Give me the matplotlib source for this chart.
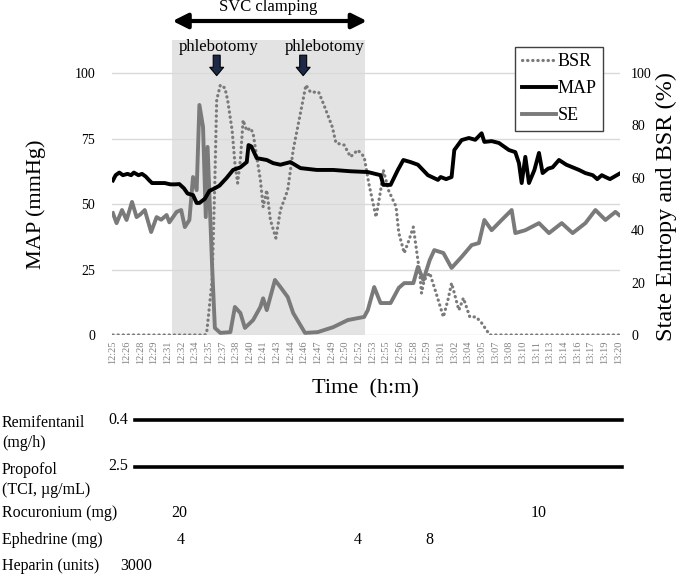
import matplotlib
matplotlib.use("Agg")
import matplotlib.pyplot as plt
import matplotlib.transforms as mtransforms
from matplotlib.lines import Line2D

plt.rcParams["font.family"] = ["Liberation Serif", "DejaVu Serif"]

# ── Data (time in minutes after 12:25) ────────────────────────────────────────
map_t = [0.0, 0.3, 0.7, 1.1, 1.6, 2.0, 2.3, 2.8, 3.2, 3.6, 4.0, 4.3, 5.0, 5.7, 6.3, 6.8,
         7.3, 7.8, 8.2, 8.8, 9.2, 9.5, 10.1, 10.6, 11.2, 11.7, 12.5, 13.2, 14.0, 14.7,
         14.9, 15.2, 15.8, 16.9, 17.6, 18.4, 19.5, 20.6, 22.4, 24.2, 26.1, 28.0, 29.4,
         29.7, 30.5, 31.3, 31.9, 32.7, 33.5, 34.6, 35.7, 36.0, 36.6, 37.2, 37.5, 38.3,
         39.1, 39.8, 40.5, 40.8, 41.6, 42.4, 43.5, 44.2, 44.6, 44.9, 45.3, 45.7, 46.3,
         46.8, 47.2, 47.8, 48.3, 49.0, 49.8, 50.5, 51.2, 51.9, 52.7, 53.2, 53.7, 54.1,
         54.6, 55.1, 55.6]
map_v = [59.0, 61.0, 62.0, 61.0, 61.5, 61.0, 62.0, 61.0, 61.5, 60.5, 59.0, 58.0, 58.0,
         58.0, 57.5, 57.5, 57.6, 56.0, 54.0, 53.4, 50.4, 50.4, 52.0, 55.0, 56.0, 57.0,
         60.0, 63.0, 64.0, 66.0, 72.5, 72.0, 67.5, 66.8, 65.6, 65.0, 66.0, 63.7, 63.0,
         63.0, 62.5, 62.2, 61.0, 57.3, 57.3, 63.0, 66.8, 66.0, 65.0, 61.0, 59.2, 60.3,
         59.5, 60.3, 70.6, 74.4, 75.2, 74.5, 77.0, 73.7, 74.0, 73.3, 70.6, 69.8, 65.6,
         58.0, 68.0, 58.0, 63.0, 69.5, 61.8, 63.5, 64.0, 66.8, 65.0, 64.0, 63.0, 61.8,
         61.0, 59.5, 61.0, 60.3, 59.5, 60.5, 61.5]

se_t = [0.0, 0.4, 1.0, 1.5, 2.1, 2.6, 3.0, 3.5, 4.2, 4.8, 5.3, 5.9, 6.2, 7.0, 7.5, 7.9,
        8.4, 8.8, 9.2, 9.5, 9.9, 10.2, 10.4, 10.9, 11.2, 11.8, 12.9, 13.4, 14.0, 14.5,
        15.4, 16.2, 16.5, 16.9, 17.8, 18.4, 19.2, 19.8, 21.1, 22.5, 24.2, 25.8, 27.6,
        28.0, 28.7, 29.4, 30.5, 31.4, 32.0, 33.0, 33.5, 34.1, 34.8, 35.3, 36.3, 37.2,
        38.3, 39.4, 40.2, 40.8, 41.6, 42.7, 43.8, 44.2, 45.3, 46.8, 47.9, 49.3, 50.5,
        51.9, 53.0, 54.1, 55.2, 55.6]
se_v = [46.5, 42.7, 47.7, 43.9, 50.8, 45.0, 46.0, 47.7, 39.3, 45.0, 44.0, 45.8, 43.0,
        47.0, 47.7, 41.2, 43.9, 60.3, 55.3, 87.8, 79.4, 45.0, 71.8, 26.0, 2.7, 0.8, 1.1,
        10.7, 8.4, 2.7, 5.7, 10.7, 14.0, 9.5, 21.0, 18.3, 14.5, 8.4, 0.8, 1.1, 3.0, 5.7,
        6.9, 9.5, 18.3, 12.2, 12.2, 18.0, 19.8, 19.8, 26.0, 21.0, 28.6, 32.4, 31.3, 25.6,
        29.8, 34.3, 35.1, 43.9, 40.0, 43.9, 47.7, 38.9, 40.0, 42.7, 38.9, 42.7, 38.9,
        42.7, 47.7, 43.9, 47.0, 45.8]

bsr_t = [0.0, 10.1, 10.3, 10.9, 11.2, 11.4, 11.8, 12.3, 12.6, 13.1, 13.4, 13.7, 14.0,
         14.3, 14.7, 15.1, 15.4, 15.8, 16.2, 16.5, 16.9, 17.3, 17.9, 18.4, 19.2, 19.8,
         20.6, 21.2, 21.7, 22.6, 23.1, 24.1, 24.5, 25.4, 26.1, 26.9, 27.6, 28.1, 28.9,
         29.4, 29.7, 30.3, 31.1, 31.4, 32.0, 32.5, 33.0, 33.3, 33.7, 33.9, 34.2, 34.8,
         35.5, 36.3, 36.8, 37.2, 37.5, 38.0, 38.5, 39.2, 39.9, 40.5, 41.4, 55.6]
bsr_v = [0.0, 0.0, 0.8, 21.0, 59.0, 89.7, 95.4, 94.3, 89.7, 78.0, 65.6, 58.0, 66.8, 82.0,
         78.0, 79.0, 77.0, 68.0, 59.2, 48.9, 55.3, 43.9, 37.0, 47.7, 55.3, 70.6, 84.7,
         95.4, 92.7, 92.7, 88.5, 79.4, 73.3, 72.5, 68.0, 70.6, 68.0, 58.0, 45.0, 55.0,
         63.0, 55.0, 49.0, 39.0, 31.3, 36.0, 41.2, 33.6, 23.7, 16.0, 21.0, 23.7, 16.0,
         6.9, 13.4, 19.8, 16.0, 9.5, 14.1, 6.9, 6.9, 4.6, 0.0, 0.0]

tick_labels = ["12:25", "12:26", "12:28", "12:29", "12:31", "12:32", "12:34", "12:35",
               "12:37", "12:38", "12:40", "12:41", "12:43", "12:44", "12:46", "12:47",
               "12:49", "12:50", "12:52", "12:53", "12:55", "12:56", "12:58", "12:59",
               "13:01", "13:02", "13:04", "13:05", "13:07", "13:08", "13:10", "13:11",
               "13:13", "13:14", "13:16", "13:17", "13:19", "13:20"]
tick_step = 1.5

clamp_start, clamp_end = 6.45, 27.7
phlebotomy_t = [11.4, 20.9]
phlebotomy_label_t = [11.6, 23.25]

infusions = [("Remifentanil\n(mg/h)", "0.4", 2.4, 55.9),
             ("Propofol\n(TCI, \u00b5g/mL)", "2.5", 2.4, 55.9)]
bolus_rows = ["Rocuronium (mg)", "Ephedrine (mg)", "Heparin (units)"]
bolus_t = [[7.3, 46.8], [7.4, 26.9, 34.8], [2.6]]
bolus_dose = [["20", "10"], ["4", "4", "8"], ["3000"]]

# ── Figure ────────────────────────────────────────────────────────────────────
W, H = 685, 576
fig = plt.figure(figsize=(W / 100, H / 100), dpi=100)
ax = fig.add_axes([112 / W, 1 - 335 / H, 508 / W, 295 / H])
ax2 = ax.twinx()   # right-hand % scale; same 0-100 mapping as MAP

YTOP = 112.6
ax.set_xlim(-0.1, 55.7)
ax.set_ylim(0, YTOP)
ax2.set_ylim(0, YTOP)

ax.axvspan(clamp_start, clamp_end, color="#e3e3e3", zorder=0, lw=0)
for y in [0, 25, 50, 75, 100]:
    ax.axhline(y, color="#d9d9d9", lw=1, zorder=0.5)

l_se, = ax.plot(se_t, se_v, color="#7a7a7a", lw=2.8, zorder=2, label="SE")
l_bsr, = ax.plot(bsr_t, bsr_v, color="#7a7a7a", lw=2.3, ls=(0, (0.1, 1.5)),
                 dash_capstyle="round", zorder=2, label="BSR")
l_map, = ax.plot(map_t, map_v, color="black", lw=2.8, zorder=3, label="MAP")

for a in (ax, ax2):
    for s in a.spines.values():
        s.set_visible(False)

ax.set_yticks([0, 25, 50, 75, 100])
ax.tick_params(axis="y", length=0, pad=12, labelsize=10)
ax2.set_yticks([0, 20, 40, 60, 80, 100])
ax2.tick_params(axis="y", length=0, pad=8, labelsize=10)

ax.set_xticks([i * tick_step for i in range(len(tick_labels))])
ax.set_xticklabels(tick_labels, rotation=90, fontsize=7.5, color="#808080")
ax.tick_params(axis="x", length=0, pad=4)

ax.set_ylabel("MAP (mmHg)", fontsize=16)
ax.yaxis.set_label_coords(-0.13, 0.444)
ax2.set_ylabel("State Entropy and BSR (%)", fontsize=17.5)
ax2.yaxis.set_label_coords(1.07, 0.437)
ax.set_xlabel("Time  (h:m)", fontsize=16)
ax.xaxis.set_label_coords(0.498, -0.15)

leg = ax.legend([l_bsr, l_map, l_se], ["BSR", "MAP", "SE"], loc="upper right",
                bbox_to_anchor=(603 / W, 1 - 47 / H), bbox_transform=fig.transFigure,
                fontsize=13, frameon=True, fancybox=False, edgecolor="#404040",
                handlelength=1.9, handletextpad=0.1, labelspacing=0.55,
                borderpad=0.35, borderaxespad=0, framealpha=1)
leg.get_frame().set_linewidth(1.0)
leg.set_zorder(10)

# SVC clamping arrow and phlebotomy markers
blend = mtransforms.blended_transform_factory(ax.transData, fig.transFigure)
ax.annotate("", xy=(clamp_start + 0.1, 1 - 21 / H), xytext=(clamp_end + 0.2, 1 - 21 / H),
            xycoords=("data", "figure fraction"), textcoords=("data", "figure fraction"),
            arrowprops=dict(arrowstyle="<|-|>,head_length=0.9,head_width=0.45",
                            color="black", lw=3, shrinkA=0, shrinkB=0))
ax.text((clamp_start + clamp_end) / 2, 1 - 7 / H, "SVC clamping", fontsize=12,
        ha="center", va="center", transform=blend)
for t, tl in zip(phlebotomy_t, phlebotomy_label_t):
    ax.text(tl, 1 - 47 / H, "phlebotomy", fontsize=12, ha="center", va="center",
            transform=blend)
    ax.annotate("", xy=(t, 99.0), xytext=(t, 106.8),
                arrowprops=dict(arrowstyle="simple,head_width=1.0,head_length=0.6,tail_width=0.5",
                                fc="#1c2a48", ec="black", lw=0.8, shrinkA=0, shrinkB=0))

# ── Drug table below the chart ────────────────────────────────────────────────
TS = 11.5
inf_y = [420, 466.5]
for (name, rate, t0, t1), y in zip(infusions, inf_y):
    fig.text(2 / W, 1 - (y - 5) / H, name, fontsize=TS, ha="left", va="top",
             linespacing=1.35)
    fig.text(128 / W, 1 - y / H, rate, fontsize=TS, ha="right", va="center")
    fig.add_artist(Line2D([t0, t1], [1 - y / H, 1 - y / H], color="black", lw=2.6,
                          transform=blend))
bolus_y = [513, 540, 566]
for name, ts, doses, y in zip(bolus_rows, bolus_t, bolus_dose, bolus_y):
    fig.text(2 / W, 1 - y / H, name, fontsize=TS, ha="left", va="center")
    for t, d in zip(ts, doses):
        ax.text(t, 1 - y / H, d, fontsize=TS, ha="center", va="center", transform=blend)

fig.savefig("out.png", dpi=100)
